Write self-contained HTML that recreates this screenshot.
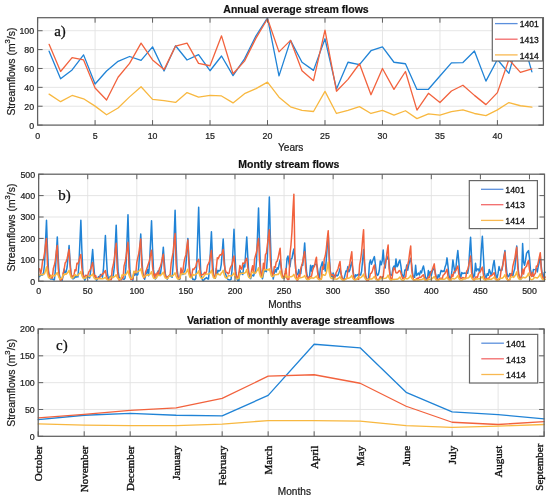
<!DOCTYPE html>
<html><head><meta charset="utf-8"><title>Stream flows</title>
<style>html,body{margin:0;padding:0;background:#fff;} body{width:550px;height:499px;overflow:hidden;font-family:"Liberation Sans",sans-serif;} svg{display:block;filter:blur(0.35px);}</style>
</head><body>
<svg width="550" height="499" viewBox="0 0 550 499" font-family="'Liberation Sans', sans-serif">
<style>.t{fill:#1c1c1c;stroke:#1c1c1c;stroke-width:0.22px}</style>
<rect x="37.6" y="17.7" width="505.8" height="107.4" fill="#fff"/>
<line x1="95.08" y1="17.7" x2="95.08" y2="125.1" stroke="#e2e2e2" stroke-width="0.9"/>
<line x1="152.55" y1="17.7" x2="152.55" y2="125.1" stroke="#e2e2e2" stroke-width="0.9"/>
<line x1="210.03" y1="17.7" x2="210.03" y2="125.1" stroke="#e2e2e2" stroke-width="0.9"/>
<line x1="267.51" y1="17.7" x2="267.51" y2="125.1" stroke="#e2e2e2" stroke-width="0.9"/>
<line x1="324.99" y1="17.7" x2="324.99" y2="125.1" stroke="#e2e2e2" stroke-width="0.9"/>
<line x1="382.46" y1="17.7" x2="382.46" y2="125.1" stroke="#e2e2e2" stroke-width="0.9"/>
<line x1="439.94" y1="17.7" x2="439.94" y2="125.1" stroke="#e2e2e2" stroke-width="0.9"/>
<line x1="497.42" y1="17.7" x2="497.42" y2="125.1" stroke="#e2e2e2" stroke-width="0.9"/>
<line x1="37.6" y1="106.22" x2="543.4" y2="106.22" stroke="#e2e2e2" stroke-width="0.9"/>
<line x1="37.6" y1="87.35" x2="543.4" y2="87.35" stroke="#e2e2e2" stroke-width="0.9"/>
<line x1="37.6" y1="68.47" x2="543.4" y2="68.47" stroke="#e2e2e2" stroke-width="0.9"/>
<line x1="37.6" y1="49.6" x2="543.4" y2="49.6" stroke="#e2e2e2" stroke-width="0.9"/>
<line x1="37.6" y1="30.72" x2="543.4" y2="30.72" stroke="#e2e2e2" stroke-width="0.9"/>
<polyline points="49.1,51.2 60.59,78.86 72.09,69.89 83.58,54.88 95.08,84.05 106.57,71.02 118.07,61.3 129.56,56.49 141.06,60.45 152.55,46.86 164.05,71.02 175.55,45.73 187.04,59.98 198.54,54.7 210.03,70.74 221.53,56.02 233.02,75.65 244.52,58.85 256.01,35.82 267.51,17.89 279,75.84 290.5,40.35 302,62.25 313.49,70.36 324.99,38.75 336.48,88.95 347.98,62.25 359.47,64.6 370.97,50.73 382.46,46.86 393.96,62.25 405.45,63.76 416.95,89.43 428.45,89.24 439.94,76.02 451.44,62.91 462.93,62.53 474.43,51.01 485.92,81.12 497.42,59.51 508.91,73.38 520.41,31.67 531.9,71.87" fill="none" stroke="#2083d6" stroke-width="1.3" stroke-linejoin="round" stroke-linecap="round"/>
<polyline points="49.1,44.31 60.59,71.49 72.09,57.62 83.58,59.98 95.08,88.01 106.57,100 118.07,77.25 129.56,63.38 141.06,43.18 152.55,59.98 164.05,69.61 175.55,46.11 187.04,43.18 198.54,63.38 210.03,65.74 221.53,35.82 233.02,73.76 244.52,61.11 256.01,38.09 267.51,18.74 279,51.86 290.5,40.35 302,70.74 313.49,80.65 324.99,30.06 336.48,91.22 347.98,79.33 359.47,63.76 370.97,94.71 382.46,68.47 393.96,89.43 405.45,71.49 416.95,110.09 428.45,93.3 439.94,102.54 451.44,91.03 462.93,85.27 474.43,95.37 485.92,104.62 497.42,92.63 508.91,59.51 520.41,72.34 531.9,68.85" fill="none" stroke="#f2623d" stroke-width="1.3" stroke-linejoin="round" stroke-linecap="round"/>
<polyline points="49.1,94.14 60.59,101.69 72.09,95.47 83.58,98.77 95.08,106.13 106.57,114.81 118.07,108.02 129.56,96.88 141.06,86.78 152.55,99.43 164.05,100.56 175.55,102.45 187.04,92.54 198.54,97.16 210.03,95.47 221.53,95.94 233.02,102.92 244.52,93.67 256.01,88.58 267.51,82.16 279,97.16 290.5,106.79 302,110.28 313.49,111.51 324.99,91.41 336.48,113.49 347.98,110.47 359.47,106.6 370.97,113.49 382.46,110.47 393.96,115.1 405.45,110.75 416.95,118.59 428.45,113.96 439.94,115.1 451.44,111.6 462.93,109.81 474.43,113.49 485.92,115.66 497.42,109.91 508.91,102.54 520.41,105.75 531.9,107.17" fill="none" stroke="#f8b840" stroke-width="1.3" stroke-linejoin="round" stroke-linecap="round"/>
<line x1="37.6" y1="125.1" x2="37.6" y2="120.1" stroke="#606060" stroke-width="1"/>
<line x1="37.6" y1="17.7" x2="37.6" y2="22.7" stroke="#606060" stroke-width="1"/>
<line x1="95.08" y1="125.1" x2="95.08" y2="120.1" stroke="#606060" stroke-width="1"/>
<line x1="95.08" y1="17.7" x2="95.08" y2="22.7" stroke="#606060" stroke-width="1"/>
<line x1="152.55" y1="125.1" x2="152.55" y2="120.1" stroke="#606060" stroke-width="1"/>
<line x1="152.55" y1="17.7" x2="152.55" y2="22.7" stroke="#606060" stroke-width="1"/>
<line x1="210.03" y1="125.1" x2="210.03" y2="120.1" stroke="#606060" stroke-width="1"/>
<line x1="210.03" y1="17.7" x2="210.03" y2="22.7" stroke="#606060" stroke-width="1"/>
<line x1="267.51" y1="125.1" x2="267.51" y2="120.1" stroke="#606060" stroke-width="1"/>
<line x1="267.51" y1="17.7" x2="267.51" y2="22.7" stroke="#606060" stroke-width="1"/>
<line x1="324.99" y1="125.1" x2="324.99" y2="120.1" stroke="#606060" stroke-width="1"/>
<line x1="324.99" y1="17.7" x2="324.99" y2="22.7" stroke="#606060" stroke-width="1"/>
<line x1="382.46" y1="125.1" x2="382.46" y2="120.1" stroke="#606060" stroke-width="1"/>
<line x1="382.46" y1="17.7" x2="382.46" y2="22.7" stroke="#606060" stroke-width="1"/>
<line x1="439.94" y1="125.1" x2="439.94" y2="120.1" stroke="#606060" stroke-width="1"/>
<line x1="439.94" y1="17.7" x2="439.94" y2="22.7" stroke="#606060" stroke-width="1"/>
<line x1="497.42" y1="125.1" x2="497.42" y2="120.1" stroke="#606060" stroke-width="1"/>
<line x1="497.42" y1="17.7" x2="497.42" y2="22.7" stroke="#606060" stroke-width="1"/>
<line x1="37.6" y1="125.1" x2="42.6" y2="125.1" stroke="#606060" stroke-width="1"/>
<line x1="543.4" y1="125.1" x2="538.4" y2="125.1" stroke="#606060" stroke-width="1"/>
<line x1="37.6" y1="106.22" x2="42.6" y2="106.22" stroke="#606060" stroke-width="1"/>
<line x1="543.4" y1="106.22" x2="538.4" y2="106.22" stroke="#606060" stroke-width="1"/>
<line x1="37.6" y1="87.35" x2="42.6" y2="87.35" stroke="#606060" stroke-width="1"/>
<line x1="543.4" y1="87.35" x2="538.4" y2="87.35" stroke="#606060" stroke-width="1"/>
<line x1="37.6" y1="68.47" x2="42.6" y2="68.47" stroke="#606060" stroke-width="1"/>
<line x1="543.4" y1="68.47" x2="538.4" y2="68.47" stroke="#606060" stroke-width="1"/>
<line x1="37.6" y1="49.6" x2="42.6" y2="49.6" stroke="#606060" stroke-width="1"/>
<line x1="543.4" y1="49.6" x2="538.4" y2="49.6" stroke="#606060" stroke-width="1"/>
<line x1="37.6" y1="30.72" x2="42.6" y2="30.72" stroke="#606060" stroke-width="1"/>
<line x1="543.4" y1="30.72" x2="538.4" y2="30.72" stroke="#606060" stroke-width="1"/>
<rect x="37.6" y="17.7" width="505.8" height="107.4" fill="none" stroke="#606060" stroke-width="1.25"/>
<text x="37.6" y="138.5" text-anchor="middle" font-size="8.8" class="t">0</text>
<text x="95.08" y="138.5" text-anchor="middle" font-size="8.8" class="t">5</text>
<text x="152.55" y="138.5" text-anchor="middle" font-size="8.8" class="t">10</text>
<text x="210.03" y="138.5" text-anchor="middle" font-size="8.8" class="t">15</text>
<text x="267.51" y="138.5" text-anchor="middle" font-size="8.8" class="t">20</text>
<text x="324.99" y="138.5" text-anchor="middle" font-size="8.8" class="t">25</text>
<text x="382.46" y="138.5" text-anchor="middle" font-size="8.8" class="t">30</text>
<text x="439.94" y="138.5" text-anchor="middle" font-size="8.8" class="t">35</text>
<text x="497.42" y="138.5" text-anchor="middle" font-size="8.8" class="t">40</text>
<text x="34.1" y="128.5" text-anchor="end" font-size="8.8" class="t">0</text>
<text x="34.1" y="109.62" text-anchor="end" font-size="8.8" class="t">20</text>
<text x="34.1" y="90.75" text-anchor="end" font-size="8.8" class="t">40</text>
<text x="34.1" y="71.87" text-anchor="end" font-size="8.8" class="t">60</text>
<text x="34.1" y="53" text-anchor="end" font-size="8.8" class="t">80</text>
<text x="34.1" y="34.12" text-anchor="end" font-size="8.8" class="t">100</text>
<text x="290.7" y="151.1" text-anchor="middle" font-size="10.1" class="t">Years</text>
<text x="296" y="13.0" text-anchor="middle" font-size="10.5" font-weight="bold" fill="#111" stroke="#111" stroke-width="0.2">Annual average stream flows</text>
<text transform="translate(14.8,71.6) rotate(-90)" text-anchor="middle" font-size="10.4" class="t">Streamflows (m<tspan font-size="7.70" dy="-5">3</tspan><tspan dy="5">/s)</tspan></text>
<text x="54.2" y="35.5" font-family="'Liberation Serif', serif" font-size="15" fill="#111" stroke="#111" stroke-width="0.25">a)</text>
<rect x="492.3" y="17.7" width="50.3" height="43.3" fill="#fff" stroke="#666" stroke-width="1.2"/>
<line x1="495" y1="23.6" x2="517.6" y2="23.6" stroke="#5b8fdc" stroke-width="1.3"/>
<text x="519.8" y="27.3" font-size="8.5" fill="#111" stroke="#111" stroke-width="0.3">1401</text>
<line x1="495" y1="39.2" x2="517.6" y2="39.2" stroke="#f26a6a" stroke-width="1.3"/>
<text x="519.8" y="42.9" font-size="8.5" fill="#111" stroke="#111" stroke-width="0.3">1413</text>
<line x1="495" y1="54.9" x2="517.6" y2="54.9" stroke="#f8b850" stroke-width="1.3"/>
<text x="519.8" y="58.6" font-size="8.5" fill="#111" stroke="#111" stroke-width="0.3">1414</text>
<rect x="38.65" y="174.2" width="505.85" height="107" fill="#fff"/>
<line x1="87.73" y1="174.2" x2="87.73" y2="281.2" stroke="#e2e2e2" stroke-width="0.9"/>
<line x1="136.82" y1="174.2" x2="136.82" y2="281.2" stroke="#e2e2e2" stroke-width="0.9"/>
<line x1="185.9" y1="174.2" x2="185.9" y2="281.2" stroke="#e2e2e2" stroke-width="0.9"/>
<line x1="234.98" y1="174.2" x2="234.98" y2="281.2" stroke="#e2e2e2" stroke-width="0.9"/>
<line x1="284.07" y1="174.2" x2="284.07" y2="281.2" stroke="#e2e2e2" stroke-width="0.9"/>
<line x1="333.15" y1="174.2" x2="333.15" y2="281.2" stroke="#e2e2e2" stroke-width="0.9"/>
<line x1="382.23" y1="174.2" x2="382.23" y2="281.2" stroke="#e2e2e2" stroke-width="0.9"/>
<line x1="431.31" y1="174.2" x2="431.31" y2="281.2" stroke="#e2e2e2" stroke-width="0.9"/>
<line x1="480.4" y1="174.2" x2="480.4" y2="281.2" stroke="#e2e2e2" stroke-width="0.9"/>
<line x1="529.48" y1="174.2" x2="529.48" y2="281.2" stroke="#e2e2e2" stroke-width="0.9"/>
<line x1="38.65" y1="259.8" x2="544.5" y2="259.8" stroke="#e2e2e2" stroke-width="0.9"/>
<line x1="38.65" y1="238.4" x2="544.5" y2="238.4" stroke="#e2e2e2" stroke-width="0.9"/>
<line x1="38.65" y1="217" x2="544.5" y2="217" stroke="#e2e2e2" stroke-width="0.9"/>
<line x1="38.65" y1="195.6" x2="544.5" y2="195.6" stroke="#e2e2e2" stroke-width="0.9"/>
<polyline points="39.63,276.61 40.61,274.39 41.59,275.33 42.58,274.78 43.56,272.65 44.54,264.49 45.52,241.88 46.5,220.21 47.48,248.97 48.47,270.33 49.45,276.93 50.43,278.93 51.41,278.9 52.39,278.89 53.37,279.68 54.36,279.89 55.34,270.93 56.32,253.89 57.3,236.9 58.28,258.58 59.26,274.16 60.25,278.54 61.23,279.44 62.21,280.21 63.19,275.22 64.17,269.04 65.15,272.85 66.14,271.9 67.12,266.99 68.1,256.51 69.08,245.46 70.06,260.97 71.04,273.5 72.03,277.21 73.01,278.95 73.99,278.43 74.97,275.7 75.95,277.45 76.93,275.96 77.92,276.88 78.9,265.25 79.88,242.43 80.86,220.21 81.84,249.37 82.82,270.85 83.81,277.32 84.79,280.17 85.77,278.06 86.75,275.45 87.73,276.12 88.71,277.17 89.7,277.9 90.68,270.86 91.66,260.55 92.64,249.53 93.62,264.33 94.6,275.4 95.59,278.37 96.57,280.36 97.55,278.75 98.53,276.6 99.51,277.14 100.49,274.49 101.48,274.91 102.46,277.22 103.44,269.17 104.42,252.21 105.4,235.62 106.38,257.1 107.37,273.35 108.35,278.21 109.33,277.9 110.31,276.28 111.29,276.43 112.27,277.75 113.26,275.64 114.24,267.69 115.22,245.69 116.2,225.13 117.18,252.22 118.16,271.66 119.15,277.49 120.13,278.12 121.11,279.51 122.09,278.36 123.07,278.95 124.05,279.4 125.04,278 126.02,265.43 127,240.38 127.98,214.86 128.96,247.21 129.94,270.47 130.93,277.44 131.91,279.05 132.89,280.15 133.87,273.4 134.85,275.33 135.83,272.89 136.82,275.32 137.8,274.6 138.78,266.75 139.76,249.91 140.74,234.12 141.72,255.77 142.71,271.8 143.69,276.71 144.67,279.3 145.65,274.55 146.63,272.59 147.61,269.41 148.6,275.77 149.58,261.46 150.56,241.86 151.54,220.85 152.52,248.24 153.5,269.65 154.49,276.09 155.47,278.9 156.45,277.64 157.43,272.9 158.41,270.49 159.39,274.6 160.38,274.47 161.36,266.94 162.34,258.65 163.32,247.17 164.3,262.14 165.28,273.58 166.27,277.32 167.25,279.13 168.23,276.87 169.21,275.27 170.19,275.41 171.17,276.54 172.16,277.24 173.14,264.21 174.12,237.19 175.1,210.37 176.08,244.6 177.06,269.17 178.05,276.42 179.03,279.47 180.01,278.98 180.99,270.83 181.97,270.39 182.95,274.56 183.94,272.18 184.92,270.84 185.9,264.5 186.88,252.45 187.86,238.4 188.84,256.78 189.83,272.74 190.81,276.86 191.79,275.64 192.77,279.38 193.75,279.35 194.73,279.92 195.72,278.53 196.7,265.5 197.68,236.32 198.66,207.16 199.64,243.85 200.62,269.77 201.61,277.02 202.59,280.26 203.57,280.55 204.55,278.96 205.53,278.47 206.51,277.53 207.5,278.69 208.48,278.96 209.46,269.61 210.44,250.71 211.42,231.77 212.4,255.7 213.39,272.98 214.37,278.02 215.35,278.23 216.33,268.39 217.31,273.53 218.29,270.5 219.28,270.95 220.26,270.23 221.24,264.57 222.22,252.37 223.2,239.04 224.18,257.84 225.17,272.63 226.15,275.9 227.13,278.25 228.11,279.6 229.09,279.82 230.07,279.88 231.06,279.42 232.04,269.76 233.02,249.47 234,229.2 234.98,254.73 235.96,273 236.95,278.29 237.93,280.88 238.91,280.63 239.89,269.96 240.87,273.84 241.85,272.82 242.84,274.53 243.82,264.93 244.8,266.93 245.78,250.7 246.76,236.9 247.74,256 248.73,272.61 249.71,277.39 250.69,278.62 251.67,274.84 252.65,275.5 253.63,275.98 254.62,272.19 255.6,272.17 256.58,259.9 257.56,234.05 258.54,208.01 259.52,242.49 260.51,268.73 261.49,275.51 262.47,278.77 263.45,273.92 264.43,269.51 265.41,271.09 266.4,271.61 267.38,257.25 268.36,227.37 269.34,197.1 270.32,235.88 271.3,266.16 272.29,274.45 273.27,278.99 274.25,273.27 275.23,269.52 276.21,272.03 277.19,267.77 278.18,269.12 279.16,264.11 280.14,259.8 281.12,267.2 282.1,275.12 283.08,278.09 284.07,278.24 285.05,276.95 286.03,271.1 287.01,258.52 287.99,256.06 288.97,262.94 289.96,266.77 290.94,258.9 291.92,258.55 292.9,253.04 293.88,248.89 294.86,258.86 295.85,271 296.83,274.83 297.81,274.5 298.79,269.57 299.77,273.86 300.75,273.63 301.74,265.06 302.72,265.3 303.7,254.9 304.68,242.89 305.66,259.83 306.64,272.77 307.63,277.65 308.61,277.63 309.59,276.08 310.57,265.17 311.55,271.13 312.53,265.71 313.52,266.81 314.5,264.88 315.48,264.34 316.46,264.08 317.44,268.02 318.42,275.44 319.41,277.8 320.39,268.25 321.37,265.27 322.35,261.89 323.33,269.15 324.31,264.28 325.3,271.08 326.28,259.71 327.26,246.13 328.24,234.12 329.22,253.9 330.2,270.37 331.19,275.81 332.17,276.66 333.15,272.98 334.13,275.22 335.11,276.02 336.09,275.08 337.07,275.94 338.06,275.12 339.04,271.95 340.02,268.36 341,273.6 341.98,277.78 342.96,279.27 343.95,279.24 344.93,275.19 345.91,271.08 346.89,271.48 347.87,266.57 348.85,271.79 349.84,270.06 350.82,265.11 351.8,261.94 352.78,268.63 353.76,275.58 354.74,278.01 355.73,274.84 356.71,275.84 357.69,274.78 358.67,274.27 359.65,274.76 360.63,275.05 361.62,271.08 362.6,260.48 363.58,249.53 364.56,263.7 365.54,275.18 366.52,278.68 367.51,279.68 368.49,278.56 369.47,263.29 370.45,260.08 371.43,264.23 372.41,261.49 373.4,259.01 374.38,256.59 375.36,264 376.34,272.76 377.32,275.41 378.3,274.65 379.29,270.46 380.27,260.93 381.25,264.71 382.23,260.81 383.21,249.98 384.19,263.24 385.18,268.02 386.16,259.52 387.14,259.13 388.12,255.95 389.1,262.54 390.08,274.07 391.07,275.43 392.05,274.21 393.03,267.75 394.01,266.01 394.99,269.41 395.97,258.97 396.96,266.71 397.94,265.45 398.92,261.96 399.9,260.01 400.88,265.86 401.86,273.85 402.85,275.93 403.83,277.45 404.81,270.06 405.79,270.53 406.77,265 407.75,270.14 408.74,264.68 409.72,261.06 410.7,258.3 411.68,264.74 412.66,274.08 413.64,277.13 414.63,277.32 415.61,265.29 416.59,275.48 417.57,274.29 418.55,273.07 419.53,275.07 420.52,271.06 421.5,272.92 422.48,268.79 423.46,266.01 424.44,271.14 425.42,276.83 426.41,278.87 427.39,279.54 428.37,270.56 429.35,275.44 430.33,271.5 431.31,275.53 432.3,271.11 433.28,269.35 434.26,268.15 435.24,272.51 436.22,276.8 437.2,279.05 438.19,274.84 439.17,277.11 440.15,273.9 441.13,270.35 442.11,271.66 443.09,270.92 444.08,271.58 445.06,267.09 446.04,264.55 447.02,257.87 448,266.17 448.98,275.6 449.97,277.94 450.95,278.3 451.93,270.65 452.91,259.95 453.89,266.42 454.87,272.96 455.86,268.09 456.84,258.45 457.82,250.6 458.8,261.65 459.78,274.52 460.76,277.62 461.75,272.56 462.73,273.6 463.71,273.26 464.69,273.04 465.67,273.15 466.65,273.29 467.64,273.24 468.62,268.11 469.6,251.18 470.58,237.33 471.56,257.23 472.54,272.6 473.53,277.12 474.51,275.67 475.49,263.19 476.47,270.89 477.45,269.01 478.43,268.96 479.42,272.01 480.4,265.38 481.38,248.83 482.36,236.26 483.34,254.75 484.32,272.41 485.31,276.93 486.29,277.29 487.27,273.63 488.25,275.26 489.23,269.44 490.21,271.97 491.2,275.34 492.18,272.1 493.16,264.87 494.14,260.44 495.12,269.02 496.1,276.11 497.09,277.85 498.07,273.44 499.05,266.58 500.03,270.31 501.01,270.74 501.99,270.11 502.98,263.52 503.96,256.55 504.94,250.6 505.92,263.03 506.9,273.12 507.88,276.71 508.87,276.34 509.85,273.47 510.83,274.65 511.81,273.51 512.79,276.11 513.77,271.88 514.76,268.82 515.74,258.28 516.72,246.1 517.7,261.52 518.68,274.46 519.66,278.05 520.65,279.42 521.63,277.35 522.61,243.47 523.59,261.94 524.57,265.25 525.55,259.95 526.54,253.45 527.52,251.81 528.5,250.6 529.48,257.68 530.46,269.63 531.44,273.37 532.43,276.09 533.41,269.47 534.39,269.62 535.37,269.85 536.35,268.68 537.33,271.89 538.32,265.96 539.3,262.02 540.28,255.95 541.26,266.2 542.24,274.57 543.22,277.39 544.21,272.75 545.19,272.24" fill="none" stroke="#2083d6" stroke-width="1.5" stroke-linejoin="round" stroke-linecap="round"/>
<polyline points="39.63,268.84 40.61,274.08 41.59,269.54 42.58,260.87 43.56,258.93 44.54,253.01 45.52,244.89 46.5,238.4 47.48,264.6 48.47,272.92 49.45,277.25 50.43,275.18 51.41,278.08 52.39,277.75 53.37,268.4 54.36,265.28 55.34,260.28 56.32,251.86 57.3,245.46 58.28,268.95 59.26,276.53 60.25,280.26 61.23,280.06 62.21,278.8 63.19,273.11 64.17,269.42 65.15,262.99 66.14,261.59 67.12,258.5 68.1,254.04 69.08,249.53 70.06,265.48 71.04,274.6 72.03,276.19 73.01,276.53 73.99,275.15 74.97,269.77 75.95,270.78 76.93,263.26 77.92,263.81 78.9,261.14 79.88,256.94 80.86,254.45 81.84,267.66 82.82,274.43 83.81,276.76 84.79,276.83 85.77,275.22 86.75,276.83 87.73,275.65 88.71,272.12 89.7,270.52 90.68,268.62 91.66,265.43 92.64,262.58 93.62,273.19 94.6,276.66 95.59,275.5 96.57,278.52 97.55,278.75 98.53,278.1 99.51,277.55 100.49,276.03 101.48,274.99 102.46,273.85 103.44,273.71 104.42,271.94 105.4,270.5 106.38,276.03 107.37,278.08 108.35,279.88 109.33,279.58 110.31,279.72 111.29,279.79 112.27,268.85 113.26,265.04 114.24,259.31 115.22,250.58 116.2,243.32 117.18,268.77 118.16,276.62 119.15,280.58 120.13,279.59 121.11,279.92 122.09,277.73 123.07,277.96 124.05,265.85 125.04,262.52 126.02,257.26 127,249 127.98,242.25 128.96,267.05 129.94,275.39 130.93,279.56 131.91,279.28 132.89,278.54 133.87,273.11 134.85,271.45 135.83,273.01 136.82,262.31 137.8,257.69 138.78,253.55 139.76,245.99 140.74,239.04 141.72,264.57 142.71,273.69 143.69,277.94 144.67,277.43 145.65,271.72 146.63,269.31 147.61,266.35 148.6,263.32 149.58,260.52 150.56,254.39 151.54,250.17 152.52,266.47 153.5,273.53 154.49,277.7 155.47,273.98 156.45,275.77 157.43,272.36 158.41,275.27 159.39,268.53 160.38,266.53 161.36,262.82 162.34,258.1 163.32,254.24 164.3,268.99 165.28,275.73 166.27,276.98 167.25,276.96 168.23,276.42 169.21,276.26 170.19,274.33 171.17,263.3 172.16,257.31 173.14,252.15 174.12,241.65 175.1,233.48 176.08,263.37 177.06,273.88 178.05,277.41 179.03,278.9 180.01,278.07 180.99,268.05 181.97,273.46 182.95,270.87 183.94,262.57 184.92,257.87 185.9,254.95 186.88,246.43 187.86,240.11 188.84,262.17 189.83,273.59 190.81,275.73 191.79,275.76 192.77,269.01 193.75,269.52 194.73,267.91 195.72,266.87 196.7,262.41 197.68,261.03 198.66,259.37 199.64,267.88 200.62,275.18 201.61,275.27 202.59,274.44 203.57,274.26 204.55,272.33 205.53,273.56 206.51,271.62 207.5,265.39 208.48,263.53 209.46,261.4 210.44,255.46 211.42,250.6 212.4,268.88 213.39,275.04 214.37,277.58 215.35,277.42 216.33,267.58 217.31,257.85 218.29,258.62 219.28,256.13 220.26,254.58 221.24,254.97 222.22,253.07 223.2,249.53 224.18,264.35 225.17,269.5 226.15,272.53 227.13,272.48 228.11,273.95 229.09,273.04 230.07,268.62 231.06,266.31 232.04,264.59 233.02,259.25 234,255.95 234.98,269.76 235.96,275.81 236.95,277.21 237.93,277.67 238.91,273.01 239.89,265.48 240.87,268.33 241.85,269.14 242.84,263.03 243.82,263.42 244.8,262.94 245.78,259.61 246.76,258.3 247.74,267.18 248.73,272.88 249.71,274.76 250.69,276.09 251.67,269.91 252.65,265.78 253.63,272.73 254.62,258.91 255.6,255.24 256.58,251.78 257.56,244.11 258.54,238.4 259.52,260.97 260.51,271.05 261.49,275.66 262.47,274.14 263.45,263.37 264.43,268.91 265.41,254.69 266.4,253.24 267.38,244.86 268.36,237.59 269.34,229.63 270.32,258.71 271.3,270.54 272.29,274.42 273.27,275.3 274.25,266.7 275.23,267.36 276.21,262.02 277.19,261.17 278.18,257.35 279.16,252.76 280.14,248.24 281.12,265.7 282.1,274.35 283.08,277.46 284.07,276.77 285.05,273 286.03,268.48 287.01,278.8 287.99,279.63 288.97,279.27 289.96,254.16 290.94,245.22 291.92,232.28 292.9,211.33 293.88,194.32 294.86,254.24 295.85,271.69 296.83,280.15 297.81,280.17 298.79,274.87 299.77,276.58 300.75,268.52 301.74,265.35 302.72,261.68 303.7,256.22 304.68,251.67 305.66,268.71 306.64,276.23 307.63,278.29 308.61,278.18 309.59,276.76 310.57,276.65 311.55,276.18 312.53,270.89 313.52,267.68 314.5,266.24 315.48,260.8 316.46,257.23 317.44,271.71 318.42,276.83 319.41,279.53 320.39,279.23 321.37,278.46 322.35,266.98 323.33,268.9 324.31,258.93 325.3,255.83 326.28,249.12 327.26,238.95 328.24,230.7 329.22,260.94 330.2,271.69 331.19,275.39 332.17,274.77 333.15,274.71 334.13,278.24 335.11,277.1 336.09,272.75 337.07,270.84 338.06,268.69 339.04,264.7 340.02,261.51 341,273.29 341.98,277.61 342.96,279.37 343.95,279.52 344.93,279.37 345.91,278.75 346.89,278.42 347.87,269.7 348.85,267.9 349.84,263.21 350.82,257.1 351.8,251.67 352.78,270.99 353.76,277.05 354.74,279.54 355.73,279.51 356.71,279.3 357.69,278.84 358.67,279.49 359.65,264.64 360.63,259.52 361.62,251.72 362.6,239.64 363.58,229.63 364.56,264.94 365.54,275.32 366.52,280.38 367.51,280.35 368.49,280.19 369.47,277.98 370.45,273.42 371.43,273.11 372.41,270.99 373.4,267.32 374.38,264.94 375.36,274.29 376.34,278.37 377.32,279.62 378.3,279.66 379.29,278.88 380.27,276.56 381.25,277.32 382.23,277.69 383.21,277.03 384.19,267.53 385.18,263.68 386.16,259.01 387.14,251.32 388.12,245.03 389.1,268.53 390.08,275.86 391.07,279.95 392.05,278.75 393.03,270.99 394.01,267.69 394.99,269.1 395.97,272.83 396.96,273.02 397.94,272.45 398.92,270.86 399.9,270.5 400.88,272.94 401.86,276.34 402.85,278.63 403.83,277.93 404.81,277.75 405.79,276.65 406.77,267.75 407.75,264.78 408.74,260.38 409.72,252.38 410.7,246.1 411.68,269.4 412.66,276.26 413.64,280.07 414.63,279.98 415.61,279.72 416.59,278.87 417.57,278.15 418.55,278.36 419.53,277.07 420.52,277.43 421.5,276.81 422.48,275.47 423.46,274.78 424.44,278.26 425.42,279.56 426.41,280.24 427.39,280.05 428.37,276.96 429.35,277.47 430.33,273.81 431.31,271.76 432.3,269.58 433.28,266.73 434.26,263.87 435.24,274.04 436.22,277.77 437.2,280.08 438.19,279.79 439.17,278.91 440.15,278.3 441.13,278.18 442.11,279.24 443.09,275.35 444.08,274.46 445.06,273.33 446.04,271.22 447.02,269.22 448,276.6 448.98,278.75 449.97,280 450.95,279.56 451.93,274.48 452.91,276.46 453.89,272.11 454.87,271.48 455.86,270.73 456.84,267.7 457.82,266.01 458.8,274.14 459.78,277.47 460.76,278.53 461.75,278.36 462.73,277.5 463.71,277.64 464.69,278.63 465.67,278.53 466.65,271.11 467.64,269.69 468.62,265.82 469.6,260.36 470.58,255.95 471.56,272.28 472.54,277.48 473.53,280.07 474.51,280.03 475.49,276.94 476.47,276.95 477.45,277.37 478.43,273.74 479.42,272.39 480.4,271.81 481.38,268.98 482.36,267.08 483.34,274.37 484.32,277.72 485.31,279.54 486.29,278.71 487.27,278.71 488.25,278.32 489.23,278.06 490.21,275.83 491.2,275.86 492.18,274.96 493.16,273.68 494.14,272.64 495.12,277.41 496.1,278.75 497.09,280.01 498.07,279.41 499.05,279.75 500.03,278.74 501.01,271.09 501.99,268.16 502.98,264.09 503.96,257.61 504.94,252.1 505.92,271.24 506.9,277.23 507.88,280.5 508.87,280.05 509.85,279.86 510.83,274.29 511.81,275.14 512.79,266.49 513.77,262.3 514.76,259.03 515.74,252.4 516.72,247.17 517.7,267.25 518.68,274.31 519.66,277.89 520.65,277.92 521.63,275.25 522.61,268.94 523.59,274.11 524.57,268.6 525.55,267.04 526.54,266.47 527.52,262.65 528.5,260.44 529.48,269.46 530.46,274.76 531.44,276.48 532.43,272.41 533.41,276.62 534.39,274.61 535.37,273.31 536.35,266.12 537.33,266.44 538.32,262.11 539.3,257.32 540.28,252.74 541.26,269.2 542.24,275.86 543.22,278.36 544.21,277.73 545.19,277.1" fill="none" stroke="#f2623d" stroke-width="1.5" stroke-linejoin="round" stroke-linecap="round"/>
<polyline points="39.63,275.05 40.61,274.66 41.59,274.88 42.58,274.58 43.56,274.55 44.54,273.59 45.52,271.1 46.5,266.86 47.48,273.89 48.47,277.35 49.45,278.1 50.43,278.12 51.41,275.37 52.39,275.76 53.37,275.58 54.36,276.12 55.34,274.97 56.32,273.92 57.3,272.5 58.28,275.8 59.26,278.02 60.25,279.03 61.23,278.45 62.21,277.81 63.19,274.59 64.17,274.96 65.15,273.81 66.14,274.35 67.12,273.26 68.1,272.02 69.08,270.24 70.06,274.28 71.04,277.36 72.03,278.03 73.01,277.94 73.99,276.64 74.97,274.6 75.95,275.56 76.93,275.51 77.92,275.42 78.9,273.89 79.88,273.29 80.86,271.44 81.84,275.41 82.82,277.72 83.81,278.59 84.79,278.36 85.77,277.4 86.75,276.67 87.73,276.39 88.71,276.58 89.7,276.36 90.68,275.97 91.66,275.21 92.64,274.11 93.62,277.05 94.6,278.53 95.59,279.08 96.57,278.9 97.55,278.45 98.53,278.62 99.51,278.87 100.49,278.56 101.48,278.69 102.46,278.83 103.44,278.61 104.42,277.91 105.4,277.26 106.38,278.91 107.37,279.73 108.35,280.14 109.33,280.1 110.31,277.34 111.29,276.96 112.27,276.88 113.26,277.54 114.24,276.63 115.22,276.17 116.2,274.8 117.18,277.39 118.16,278.78 119.15,279.28 120.13,279.27 121.11,278.51 122.09,274.89 123.07,275.19 124.05,274.51 125.04,275.25 126.02,274.18 127,272.76 127.98,270.76 128.96,275.09 129.94,277.74 130.93,278.14 131.91,278.18 132.89,276.84 133.87,271.19 134.85,272.15 135.83,272 136.82,271.89 137.8,271.66 138.78,271.16 139.76,270.3 140.74,268.79 141.72,272.56 142.71,276.12 143.69,277.22 144.67,276.57 145.65,275.53 146.63,275.46 147.61,274.65 148.6,275.19 149.58,274.47 150.56,273.74 151.54,271.68 152.52,275.39 153.5,278.06 154.49,278.54 155.47,278.26 156.45,277.88 157.43,275.33 158.41,275.52 159.39,275.27 160.38,275.65 161.36,274.61 162.34,273.65 163.32,272.09 164.3,275.93 165.28,277.86 166.27,278.48 167.25,278.6 168.23,277.75 169.21,275.81 170.19,276.1 171.17,276.05 172.16,276.11 173.14,275.39 174.12,274.29 175.1,272.78 176.08,276.16 177.06,278.07 178.05,279.12 179.03,278.63 180.01,277.83 180.99,273.94 181.97,274.07 182.95,273.19 183.94,274.04 184.92,274.12 185.9,272.83 186.88,271.27 187.86,269.18 188.84,274.05 189.83,277.03 190.81,277.7 191.79,277.63 192.77,274.24 193.75,275.13 194.73,274.91 195.72,274.51 196.7,273.53 197.68,272.81 198.66,270.86 199.64,275.17 200.62,277.5 201.61,278.55 202.59,277.9 203.57,276.98 204.55,274.75 205.53,274.62 206.51,273.89 207.5,274.12 208.48,273.89 209.46,273.67 210.44,272.53 211.42,270.24 212.4,274.36 213.39,277.43 214.37,278.3 215.35,277.96 216.33,274.53 217.31,274.55 218.29,273.85 219.28,274.89 220.26,275.09 221.24,273.14 222.22,272.16 223.2,270.41 224.18,274.71 225.17,277.09 226.15,278 227.13,278.14 228.11,275.76 229.09,275.67 230.07,275.85 231.06,276 232.04,275.58 233.02,274.56 234,272.95 234.98,276.42 235.96,278.22 236.95,279.04 237.93,278.57 238.91,278.33 239.89,273.32 240.87,273.62 241.85,273.29 242.84,273.33 243.82,273.32 244.8,272.95 245.78,272.1 246.76,269.59 247.74,274.4 248.73,277.19 249.71,277.93 250.69,277.69 251.67,272.89 252.65,272 253.63,272.56 254.62,273.01 255.6,273.16 256.58,271.26 257.56,270.26 258.54,267.74 259.52,273.17 260.51,276.63 261.49,277.5 262.47,276.9 263.45,271.17 264.43,269.84 265.41,269.56 266.4,269.81 267.38,269.58 268.36,270.16 269.34,268.79 270.32,271.87 271.3,275.91 272.29,276.75 273.27,276.31 274.25,274.63 275.23,274.8 276.21,274.74 277.19,274.34 278.18,274.45 279.16,273.07 280.14,270.86 281.12,275.17 282.1,277.76 283.08,278.11 284.07,277.87 285.05,277.57 286.03,274.7 287.01,277.06 287.99,277.06 288.97,277.03 289.96,276.77 290.94,276.82 291.92,276.48 292.9,275.76 293.88,274.35 294.86,277.21 295.85,278.74 296.83,279.25 297.81,279.19 298.79,277.99 299.77,277.92 300.75,277.78 301.74,277.62 302.72,277.12 303.7,276.7 304.68,275.62 305.66,277.78 306.64,279.23 307.63,279.71 308.61,279.52 309.59,278.98 310.57,278.02 311.55,277.85 312.53,278 313.52,278.14 314.5,277.57 315.48,276.96 316.46,276.06 317.44,278.11 318.42,279.39 319.41,279.69 320.39,279.52 321.37,279.29 322.35,274.55 323.33,274.68 324.31,275.33 325.3,275.08 326.28,272.79 327.26,268.3 328.24,261.94 329.22,272.19 330.2,276.79 331.19,278.43 332.17,278.11 333.15,277.4 334.13,279.1 335.11,278.88 336.09,279.14 337.07,279.08 338.06,278.35 339.04,277.87 340.02,276.61 341,278.8 341.98,279.75 342.96,280.27 343.95,280.21 344.93,279.71 345.91,278.58 346.89,278.18 347.87,278.27 348.85,278.18 349.84,277.59 350.82,276.92 351.8,275.52 352.78,278.24 353.76,279.43 354.74,279.97 355.73,279.79 356.71,279.61 357.69,277.5 358.67,277.36 359.65,277.98 360.63,277.8 361.62,276.92 362.6,275.78 363.58,274.11 364.56,277.47 365.54,279.16 366.52,279.63 367.51,279.43 368.49,279.1 369.47,279.04 370.45,279.03 371.43,279.05 372.41,278.48 373.4,277.75 374.38,276.33 375.36,278.56 376.34,279.85 377.32,280.19 378.3,280.21 379.29,279.8 380.27,278.87 381.25,278.36 382.23,278.45 383.21,278.46 384.19,278.38 385.18,278.24 386.16,277.95 387.14,276.92 388.12,275.16 389.1,277.94 390.08,279.51 391.07,280.02 392.05,279.83 393.03,279.39 394.01,279.36 394.99,279.38 395.97,279.23 396.96,279.34 397.94,278.88 398.92,278.07 399.9,276.94 400.88,279.02 401.86,279.97 402.85,280.37 403.83,280.21 404.81,278.46 405.79,278.63 406.77,278.66 407.75,278.76 408.74,277.87 409.72,276.92 410.7,275.27 411.68,278.15 412.66,279.58 413.64,279.96 414.63,280 415.61,279.4 416.59,279.88 417.57,279.85 418.55,279.89 419.53,279.79 420.52,279.79 421.5,279.55 422.48,279.09 423.46,278.29 424.44,279.64 425.42,280.4 426.41,280.6 427.39,280.51 428.37,279.08 429.35,279.18 430.33,279.18 431.31,278.97 432.3,278.5 433.28,277.69 434.26,276.51 435.24,278.81 436.22,279.94 437.2,280.32 438.19,280.24 439.17,279.85 440.15,279.13 441.13,279.11 442.11,279.36 443.09,279.12 444.08,279.34 445.06,278.83 446.04,278.06 447.02,276.94 448,279.06 448.98,279.95 449.97,280.39 450.95,280.3 451.93,278.61 452.91,278.56 453.89,278.91 454.87,278.74 455.86,278.07 456.84,277.13 457.82,275.6 458.8,278.26 459.78,279.53 460.76,280.12 461.75,279.97 462.73,279.77 463.71,278.47 464.69,278.25 465.67,278.56 466.65,278.12 467.64,278.11 468.62,277.84 469.6,276.5 470.58,274.91 471.56,277.84 472.54,279.37 473.53,280.01 474.51,279.78 475.49,278.92 476.47,278.85 477.45,279.09 478.43,278.87 479.42,278.78 480.4,278.39 481.38,277.65 482.36,276.33 483.34,278.66 484.32,279.86 485.31,280.19 486.29,280.1 487.27,279.24 488.25,279.39 489.23,279.21 490.21,279.22 491.2,279.39 492.18,278.68 493.16,278.07 494.14,276.94 495.12,278.9 496.1,280.07 497.09,280.39 498.07,280.23 499.05,278.2 500.03,278.22 501.01,278.17 501.99,278.28 502.98,277.64 503.96,276.59 504.94,274.72 505.92,277.76 506.9,279.32 507.88,279.91 508.87,279.73 509.85,279.46 510.83,277.17 511.81,277.07 512.79,276.65 513.77,277.36 514.76,275.95 515.74,274.53 516.72,271.89 517.7,276.41 518.68,278.65 519.66,279.4 520.65,279.16 521.63,278.48 522.61,277.64 523.59,277.28 524.57,277.81 525.55,277.7 526.54,276.88 527.52,275.47 528.5,273.12 529.48,276.91 530.46,279.04 531.44,279.7 532.43,279.47 533.41,278.86 534.39,277.56 535.37,277.61 536.35,277.71 537.33,278.02 538.32,277.01 539.3,275.83 540.28,273.67 541.26,277.25 542.24,279.18 543.22,279.79 544.21,279.47 545.19,279.31" fill="none" stroke="#f8b840" stroke-width="1.5" stroke-linejoin="round" stroke-linecap="round"/>
<line x1="38.65" y1="281.2" x2="38.65" y2="276.2" stroke="#606060" stroke-width="1"/>
<line x1="38.65" y1="174.2" x2="38.65" y2="179.2" stroke="#606060" stroke-width="1"/>
<line x1="87.73" y1="281.2" x2="87.73" y2="276.2" stroke="#606060" stroke-width="1"/>
<line x1="87.73" y1="174.2" x2="87.73" y2="179.2" stroke="#606060" stroke-width="1"/>
<line x1="136.82" y1="281.2" x2="136.82" y2="276.2" stroke="#606060" stroke-width="1"/>
<line x1="136.82" y1="174.2" x2="136.82" y2="179.2" stroke="#606060" stroke-width="1"/>
<line x1="185.9" y1="281.2" x2="185.9" y2="276.2" stroke="#606060" stroke-width="1"/>
<line x1="185.9" y1="174.2" x2="185.9" y2="179.2" stroke="#606060" stroke-width="1"/>
<line x1="234.98" y1="281.2" x2="234.98" y2="276.2" stroke="#606060" stroke-width="1"/>
<line x1="234.98" y1="174.2" x2="234.98" y2="179.2" stroke="#606060" stroke-width="1"/>
<line x1="284.07" y1="281.2" x2="284.07" y2="276.2" stroke="#606060" stroke-width="1"/>
<line x1="284.07" y1="174.2" x2="284.07" y2="179.2" stroke="#606060" stroke-width="1"/>
<line x1="333.15" y1="281.2" x2="333.15" y2="276.2" stroke="#606060" stroke-width="1"/>
<line x1="333.15" y1="174.2" x2="333.15" y2="179.2" stroke="#606060" stroke-width="1"/>
<line x1="382.23" y1="281.2" x2="382.23" y2="276.2" stroke="#606060" stroke-width="1"/>
<line x1="382.23" y1="174.2" x2="382.23" y2="179.2" stroke="#606060" stroke-width="1"/>
<line x1="431.31" y1="281.2" x2="431.31" y2="276.2" stroke="#606060" stroke-width="1"/>
<line x1="431.31" y1="174.2" x2="431.31" y2="179.2" stroke="#606060" stroke-width="1"/>
<line x1="480.4" y1="281.2" x2="480.4" y2="276.2" stroke="#606060" stroke-width="1"/>
<line x1="480.4" y1="174.2" x2="480.4" y2="179.2" stroke="#606060" stroke-width="1"/>
<line x1="529.48" y1="281.2" x2="529.48" y2="276.2" stroke="#606060" stroke-width="1"/>
<line x1="529.48" y1="174.2" x2="529.48" y2="179.2" stroke="#606060" stroke-width="1"/>
<line x1="38.65" y1="281.2" x2="43.65" y2="281.2" stroke="#606060" stroke-width="1"/>
<line x1="544.5" y1="281.2" x2="539.5" y2="281.2" stroke="#606060" stroke-width="1"/>
<line x1="38.65" y1="259.8" x2="43.65" y2="259.8" stroke="#606060" stroke-width="1"/>
<line x1="544.5" y1="259.8" x2="539.5" y2="259.8" stroke="#606060" stroke-width="1"/>
<line x1="38.65" y1="238.4" x2="43.65" y2="238.4" stroke="#606060" stroke-width="1"/>
<line x1="544.5" y1="238.4" x2="539.5" y2="238.4" stroke="#606060" stroke-width="1"/>
<line x1="38.65" y1="217" x2="43.65" y2="217" stroke="#606060" stroke-width="1"/>
<line x1="544.5" y1="217" x2="539.5" y2="217" stroke="#606060" stroke-width="1"/>
<line x1="38.65" y1="195.6" x2="43.65" y2="195.6" stroke="#606060" stroke-width="1"/>
<line x1="544.5" y1="195.6" x2="539.5" y2="195.6" stroke="#606060" stroke-width="1"/>
<line x1="38.65" y1="174.2" x2="43.65" y2="174.2" stroke="#606060" stroke-width="1"/>
<line x1="544.5" y1="174.2" x2="539.5" y2="174.2" stroke="#606060" stroke-width="1"/>
<rect x="38.65" y="174.2" width="505.85" height="107" fill="none" stroke="#606060" stroke-width="1.25"/>
<text x="38.65" y="294.4" text-anchor="middle" font-size="8.8" class="t">0</text>
<text x="87.73" y="294.4" text-anchor="middle" font-size="8.8" class="t">50</text>
<text x="136.82" y="294.4" text-anchor="middle" font-size="8.8" class="t">100</text>
<text x="185.9" y="294.4" text-anchor="middle" font-size="8.8" class="t">150</text>
<text x="234.98" y="294.4" text-anchor="middle" font-size="8.8" class="t">200</text>
<text x="284.07" y="294.4" text-anchor="middle" font-size="8.8" class="t">250</text>
<text x="333.15" y="294.4" text-anchor="middle" font-size="8.8" class="t">300</text>
<text x="382.23" y="294.4" text-anchor="middle" font-size="8.8" class="t">350</text>
<text x="431.31" y="294.4" text-anchor="middle" font-size="8.8" class="t">400</text>
<text x="480.4" y="294.4" text-anchor="middle" font-size="8.8" class="t">450</text>
<text x="529.48" y="294.4" text-anchor="middle" font-size="8.8" class="t">500</text>
<text x="35.15" y="284.6" text-anchor="end" font-size="8.8" class="t">0</text>
<text x="35.15" y="263.2" text-anchor="end" font-size="8.8" class="t">100</text>
<text x="35.15" y="241.8" text-anchor="end" font-size="8.8" class="t">200</text>
<text x="35.15" y="220.4" text-anchor="end" font-size="8.8" class="t">300</text>
<text x="35.15" y="199" text-anchor="end" font-size="8.8" class="t">400</text>
<text x="35.15" y="177.6" text-anchor="end" font-size="8.8" class="t">500</text>
<text x="284.7" y="307.9" text-anchor="middle" font-size="10.1" class="t">Months</text>
<text x="288.8" y="167.6" text-anchor="middle" font-size="10.5" font-weight="bold" fill="#111" stroke="#111" stroke-width="0.2">Montly stream flows</text>
<text transform="translate(14.8,227.6) rotate(-90)" text-anchor="middle" font-size="10.4" class="t">Streamflows (m<tspan font-size="7.70" dy="-5">3</tspan><tspan dy="5">/s)</tspan></text>
<text x="58.3" y="199.6" font-family="'Liberation Serif', serif" font-size="15" fill="#111" stroke="#111" stroke-width="0.25">b)</text>
<rect x="469.3" y="180.6" width="68.1" height="48" fill="#fff" stroke="#666" stroke-width="1.2"/>
<line x1="481" y1="189.3" x2="503.4" y2="189.3" stroke="#5b8fdc" stroke-width="1.3"/>
<text x="505.3" y="193" font-size="8.8" fill="#111" stroke="#111" stroke-width="0.3">1401</text>
<line x1="481" y1="204.7" x2="503.4" y2="204.7" stroke="#f26a6a" stroke-width="1.3"/>
<text x="505.3" y="208.4" font-size="8.8" fill="#111" stroke="#111" stroke-width="0.3">1413</text>
<line x1="481" y1="220.4" x2="503.4" y2="220.4" stroke="#f8b850" stroke-width="1.3"/>
<text x="505.3" y="224.1" font-size="8.8" fill="#111" stroke="#111" stroke-width="0.3">1414</text>
<rect x="38.2" y="329" width="505.9" height="107.3" fill="#fff"/>
<line x1="84.19" y1="329" x2="84.19" y2="436.3" stroke="#e2e2e2" stroke-width="0.9"/>
<line x1="130.18" y1="329" x2="130.18" y2="436.3" stroke="#e2e2e2" stroke-width="0.9"/>
<line x1="176.17" y1="329" x2="176.17" y2="436.3" stroke="#e2e2e2" stroke-width="0.9"/>
<line x1="222.16" y1="329" x2="222.16" y2="436.3" stroke="#e2e2e2" stroke-width="0.9"/>
<line x1="268.15" y1="329" x2="268.15" y2="436.3" stroke="#e2e2e2" stroke-width="0.9"/>
<line x1="314.15" y1="329" x2="314.15" y2="436.3" stroke="#e2e2e2" stroke-width="0.9"/>
<line x1="360.14" y1="329" x2="360.14" y2="436.3" stroke="#e2e2e2" stroke-width="0.9"/>
<line x1="406.13" y1="329" x2="406.13" y2="436.3" stroke="#e2e2e2" stroke-width="0.9"/>
<line x1="452.12" y1="329" x2="452.12" y2="436.3" stroke="#e2e2e2" stroke-width="0.9"/>
<line x1="498.11" y1="329" x2="498.11" y2="436.3" stroke="#e2e2e2" stroke-width="0.9"/>
<line x1="38.2" y1="409.48" x2="544.1" y2="409.48" stroke="#e2e2e2" stroke-width="0.9"/>
<line x1="38.2" y1="382.65" x2="544.1" y2="382.65" stroke="#e2e2e2" stroke-width="0.9"/>
<line x1="38.2" y1="355.82" x2="544.1" y2="355.82" stroke="#e2e2e2" stroke-width="0.9"/>
<polyline points="38.2,419.67 84.19,415.27 130.18,413.28 176.17,415.27 222.16,415.81 268.15,395.42 314.15,344.24 360.14,347.78 406.13,392.31 452.12,411.78 498.11,414.68 544.1,418.81" fill="none" stroke="#2083d6" stroke-width="1.3" stroke-linejoin="round" stroke-linecap="round"/>
<polyline points="38.2,417.79 84.19,414.3 130.18,410.28 176.17,407.97 222.16,398.42 268.15,376.21 314.15,374.76 360.14,383.24 406.13,406.26 452.12,422.24 498.11,424.5 544.1,421.71" fill="none" stroke="#f2623d" stroke-width="1.3" stroke-linejoin="round" stroke-linecap="round"/>
<polyline points="38.2,423.96 84.19,425.03 130.18,425.57 176.17,425.57 222.16,424.07 268.15,420.53 314.15,420.53 360.14,421.06 406.13,425.57 452.12,427.45 498.11,426.11 544.1,424.5" fill="none" stroke="#f8b840" stroke-width="1.3" stroke-linejoin="round" stroke-linecap="round"/>
<line x1="38.2" y1="436.3" x2="38.2" y2="431.3" stroke="#606060" stroke-width="1"/>
<line x1="38.2" y1="329" x2="38.2" y2="334" stroke="#606060" stroke-width="1"/>
<line x1="84.19" y1="436.3" x2="84.19" y2="431.3" stroke="#606060" stroke-width="1"/>
<line x1="84.19" y1="329" x2="84.19" y2="334" stroke="#606060" stroke-width="1"/>
<line x1="130.18" y1="436.3" x2="130.18" y2="431.3" stroke="#606060" stroke-width="1"/>
<line x1="130.18" y1="329" x2="130.18" y2="334" stroke="#606060" stroke-width="1"/>
<line x1="176.17" y1="436.3" x2="176.17" y2="431.3" stroke="#606060" stroke-width="1"/>
<line x1="176.17" y1="329" x2="176.17" y2="334" stroke="#606060" stroke-width="1"/>
<line x1="222.16" y1="436.3" x2="222.16" y2="431.3" stroke="#606060" stroke-width="1"/>
<line x1="222.16" y1="329" x2="222.16" y2="334" stroke="#606060" stroke-width="1"/>
<line x1="268.15" y1="436.3" x2="268.15" y2="431.3" stroke="#606060" stroke-width="1"/>
<line x1="268.15" y1="329" x2="268.15" y2="334" stroke="#606060" stroke-width="1"/>
<line x1="314.15" y1="436.3" x2="314.15" y2="431.3" stroke="#606060" stroke-width="1"/>
<line x1="314.15" y1="329" x2="314.15" y2="334" stroke="#606060" stroke-width="1"/>
<line x1="360.14" y1="436.3" x2="360.14" y2="431.3" stroke="#606060" stroke-width="1"/>
<line x1="360.14" y1="329" x2="360.14" y2="334" stroke="#606060" stroke-width="1"/>
<line x1="406.13" y1="436.3" x2="406.13" y2="431.3" stroke="#606060" stroke-width="1"/>
<line x1="406.13" y1="329" x2="406.13" y2="334" stroke="#606060" stroke-width="1"/>
<line x1="452.12" y1="436.3" x2="452.12" y2="431.3" stroke="#606060" stroke-width="1"/>
<line x1="452.12" y1="329" x2="452.12" y2="334" stroke="#606060" stroke-width="1"/>
<line x1="498.11" y1="436.3" x2="498.11" y2="431.3" stroke="#606060" stroke-width="1"/>
<line x1="498.11" y1="329" x2="498.11" y2="334" stroke="#606060" stroke-width="1"/>
<line x1="544.1" y1="436.3" x2="544.1" y2="431.3" stroke="#606060" stroke-width="1"/>
<line x1="544.1" y1="329" x2="544.1" y2="334" stroke="#606060" stroke-width="1"/>
<line x1="38.2" y1="436.3" x2="43.2" y2="436.3" stroke="#606060" stroke-width="1"/>
<line x1="544.1" y1="436.3" x2="539.1" y2="436.3" stroke="#606060" stroke-width="1"/>
<line x1="38.2" y1="409.48" x2="43.2" y2="409.48" stroke="#606060" stroke-width="1"/>
<line x1="544.1" y1="409.48" x2="539.1" y2="409.48" stroke="#606060" stroke-width="1"/>
<line x1="38.2" y1="382.65" x2="43.2" y2="382.65" stroke="#606060" stroke-width="1"/>
<line x1="544.1" y1="382.65" x2="539.1" y2="382.65" stroke="#606060" stroke-width="1"/>
<line x1="38.2" y1="355.82" x2="43.2" y2="355.82" stroke="#606060" stroke-width="1"/>
<line x1="544.1" y1="355.82" x2="539.1" y2="355.82" stroke="#606060" stroke-width="1"/>
<line x1="38.2" y1="329" x2="43.2" y2="329" stroke="#606060" stroke-width="1"/>
<line x1="544.1" y1="329" x2="539.1" y2="329" stroke="#606060" stroke-width="1"/>
<rect x="38.2" y="329" width="505.9" height="107.3" fill="none" stroke="#606060" stroke-width="1.25"/>
<text transform="translate(42.2,445.8) rotate(-90)" text-anchor="end" font-family="'Liberation Serif', serif" font-size="11" fill="#111" stroke="#111" stroke-width="0.35">October</text>
<text transform="translate(88.19,445.8) rotate(-90)" text-anchor="end" font-family="'Liberation Serif', serif" font-size="11" fill="#111" stroke="#111" stroke-width="0.35">November</text>
<text transform="translate(134.18,445.8) rotate(-90)" text-anchor="end" font-family="'Liberation Serif', serif" font-size="11" fill="#111" stroke="#111" stroke-width="0.35">December</text>
<text transform="translate(180.17,445.8) rotate(-90)" text-anchor="end" font-family="'Liberation Serif', serif" font-size="11" fill="#111" stroke="#111" stroke-width="0.35">January</text>
<text transform="translate(226.16,445.8) rotate(-90)" text-anchor="end" font-family="'Liberation Serif', serif" font-size="11" fill="#111" stroke="#111" stroke-width="0.35">February</text>
<text transform="translate(272.15,445.8) rotate(-90)" text-anchor="end" font-family="'Liberation Serif', serif" font-size="11" fill="#111" stroke="#111" stroke-width="0.35">March</text>
<text transform="translate(318.15,445.8) rotate(-90)" text-anchor="end" font-family="'Liberation Serif', serif" font-size="11" fill="#111" stroke="#111" stroke-width="0.35">April</text>
<text transform="translate(364.14,445.8) rotate(-90)" text-anchor="end" font-family="'Liberation Serif', serif" font-size="11" fill="#111" stroke="#111" stroke-width="0.35">May</text>
<text transform="translate(410.13,445.8) rotate(-90)" text-anchor="end" font-family="'Liberation Serif', serif" font-size="11" fill="#111" stroke="#111" stroke-width="0.35">June</text>
<text transform="translate(456.12,445.8) rotate(-90)" text-anchor="end" font-family="'Liberation Serif', serif" font-size="11" fill="#111" stroke="#111" stroke-width="0.35">July</text>
<text transform="translate(502.11,445.8) rotate(-90)" text-anchor="end" font-family="'Liberation Serif', serif" font-size="11" fill="#111" stroke="#111" stroke-width="0.35">August</text>
<text transform="translate(543.2,443.6) rotate(-90)" text-anchor="end" font-family="'Liberation Serif', serif" font-size="11" fill="#111" stroke="#111" stroke-width="0.35">September</text>
<text x="34.7" y="439.7" text-anchor="end" font-size="8.8" class="t">0</text>
<text x="34.7" y="412.88" text-anchor="end" font-size="8.8" class="t">50</text>
<text x="34.7" y="386.05" text-anchor="end" font-size="8.8" class="t">100</text>
<text x="34.7" y="359.22" text-anchor="end" font-size="8.8" class="t">150</text>
<text x="34.7" y="332.4" text-anchor="end" font-size="8.8" class="t">200</text>
<text x="294.4" y="495" text-anchor="middle" font-size="10.1" class="t">Months</text>
<text x="290.8" y="323.9" text-anchor="middle" font-size="10.5" font-weight="bold" fill="#111" stroke="#111" stroke-width="0.2">Variation of monthly average streamflows</text>
<text transform="translate(14.8,382.8) rotate(-90)" text-anchor="middle" font-size="10.4" class="t">Streamflows (m<tspan font-size="7.70" dy="-5">3</tspan><tspan dy="5">/s)</tspan></text>
<text x="56" y="349.6" font-family="'Liberation Serif', serif" font-size="15" fill="#111" stroke="#111" stroke-width="0.25">c)</text>
<rect x="469.5" y="334.4" width="68.2" height="48.6" fill="#fff" stroke="#666" stroke-width="1.2"/>
<line x1="481.3" y1="343.2" x2="503.9" y2="343.2" stroke="#5b8fdc" stroke-width="1.3"/>
<text x="506.1" y="346.9" font-size="8.8" fill="#111" stroke="#111" stroke-width="0.3">1401</text>
<line x1="481.3" y1="358.8" x2="503.9" y2="358.8" stroke="#f26a6a" stroke-width="1.3"/>
<text x="506.1" y="362.5" font-size="8.8" fill="#111" stroke="#111" stroke-width="0.3">1413</text>
<line x1="481.3" y1="374.5" x2="503.9" y2="374.5" stroke="#f8b850" stroke-width="1.3"/>
<text x="506.1" y="378.2" font-size="8.8" fill="#111" stroke="#111" stroke-width="0.3">1414</text>
</svg>
</body></html>
